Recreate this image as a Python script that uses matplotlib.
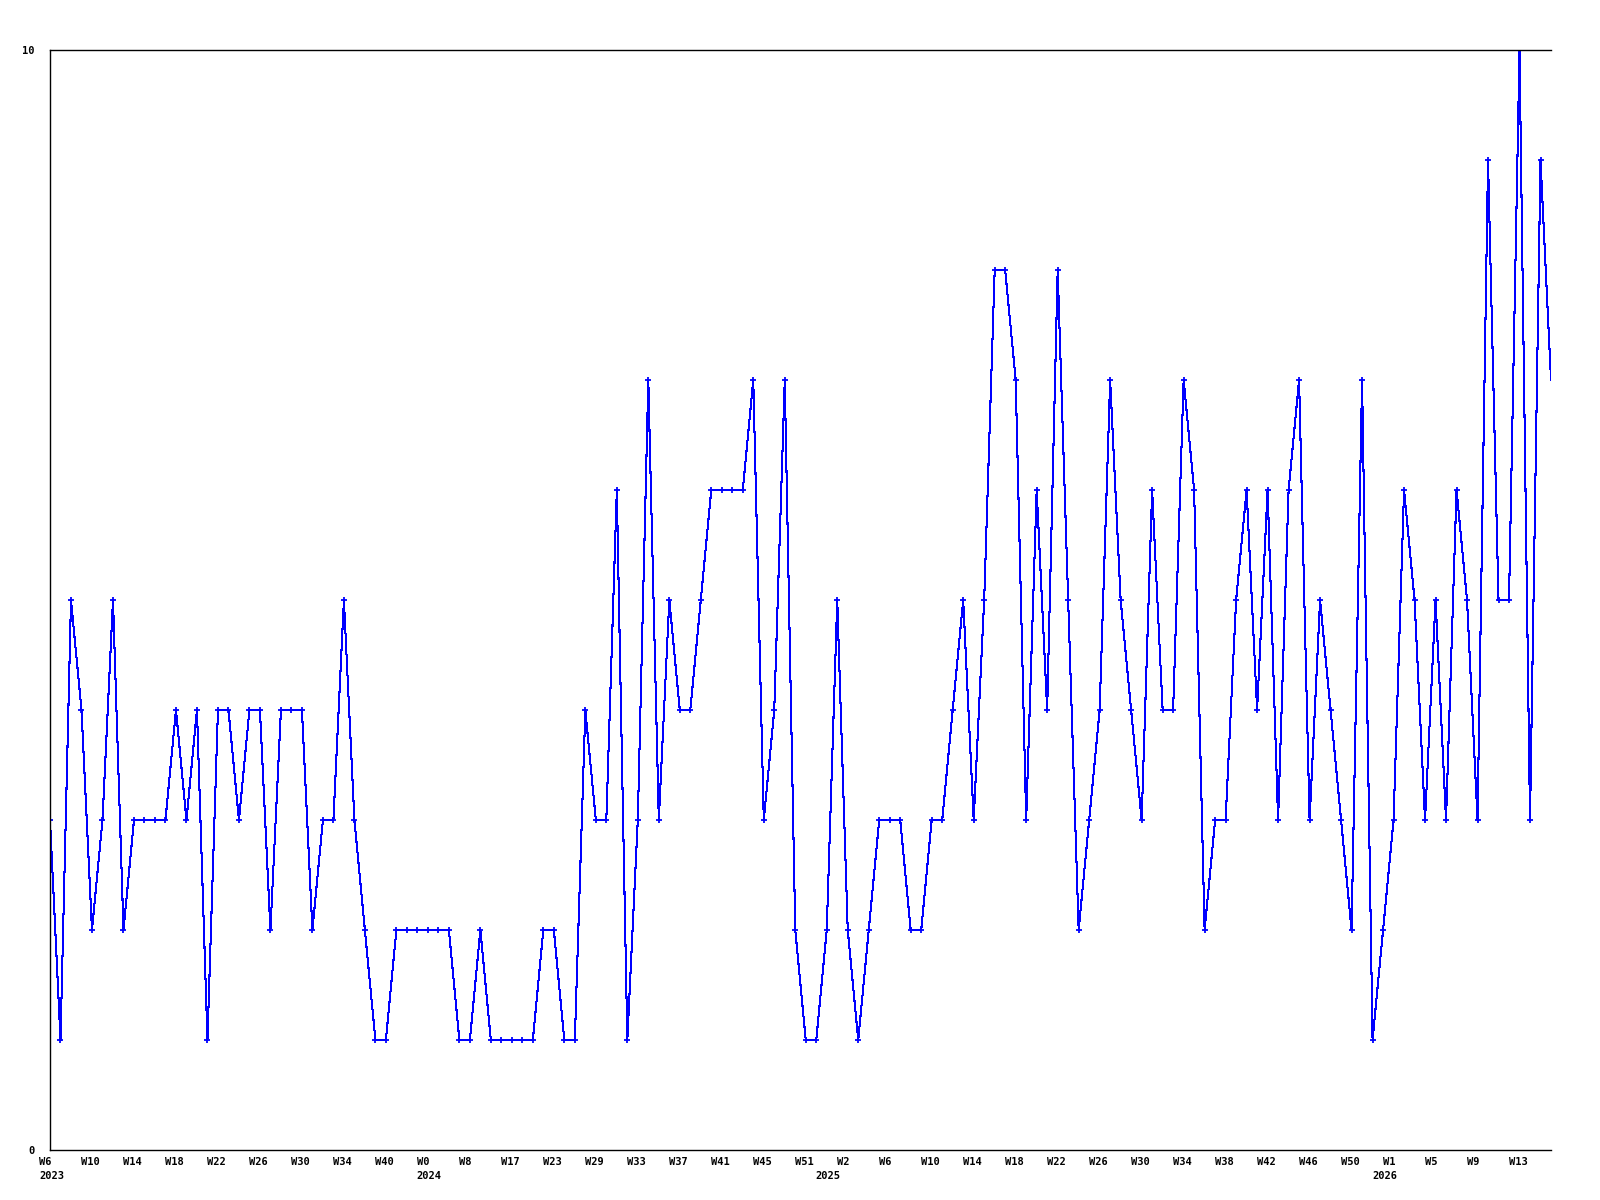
import matplotlib
matplotlib.use("Agg")
import matplotlib.pyplot as plt
import matplotlib.transforms as mtransforms

# Weekly counts, one value per plotted week (gaps in the week numbering are in the source).
values = [
    3, 1, 5, 4, 2, 3, 5, 2, 3, 3, 3, 3, 4, 3, 4, 1, 4, 4, 3, 4,
    4, 2, 4, 4, 4, 2, 3, 3, 5, 3, 2, 1, 1, 2, 2, 2, 2, 2, 2, 1,
    1, 2, 1, 1, 1, 1, 1, 2, 2, 1, 1, 4, 3, 3, 6, 1, 3, 7, 3, 5,
    4, 4, 5, 6, 6, 6, 6, 7, 3, 4, 7, 2, 1, 1, 2, 5, 2, 1, 2, 3,
    3, 3, 2, 2, 3, 3, 4, 5, 3, 5, 8, 8, 7, 3, 6, 4, 8, 5, 2, 3,
    4, 7, 5, 4, 3, 6, 4, 4, 7, 6, 2, 3, 3, 5, 6, 4, 6, 3, 6, 7,
    3, 5, 4, 3, 2, 7, 1, 2, 3, 6, 5, 3, 5, 3, 6, 5, 3, 9, 5, 5,
    10, 3, 9, 7,
]

# Week labels, one every 4 points.
week_labels = [
    "W6", "W10", "W14", "W18", "W22", "W26", "W30", "W34", "W40",
    "W0", "W8", "W17", "W23", "W29", "W33", "W37", "W41", "W45", "W51",
    "W2", "W6", "W10", "W14", "W18", "W22", "W26", "W30", "W34", "W38",
    "W42", "W46", "W50", "W1", "W5", "W9", "W13",
]
label_step = 4

# Year markers (point index where the year label sits).
years = ["2023", "2024", "2025", "2026"]
year_idx = [0, 36, 74, 127]

x = list(range(len(values)))

fig = plt.figure(figsize=(16, 12), dpi=100)
ax = fig.add_axes([50 / 1600, 1 - 1150 / 1200, 1501 / 1600, 1100 / 1200])

# last point sits on the right edge and shows no marker in the original
ax.plot(x, values, color="#0000ff", linewidth=0.75, marker="+",
        markersize=4, markeredgewidth=1.3, antialiased=False,
        markevery=list(range(len(values) - 1)))

ax.set_xlim(0, len(values) - 1)
ax.set_ylim(0, 10)

for side in ["left", "top", "bottom"]:
    ax.spines[side].set_linewidth(1.0)
    ax.spines[side].set_color("black")
ax.spines["right"].set_visible(False)

font = dict(family="DejaVu Sans Mono", weight="bold", size=7.5)

# y labels: only 0 and 10
ax.set_yticks([0, 10])
ax.set_yticklabels(["0", "10"], **font)
ax.tick_params(axis="y", length=0, pad=11)

# x labels: left aligned, starting a little left of the point
ticks = [i * label_step for i in range(len(week_labels))]
ax.set_xticks(ticks)
ax.set_xticklabels(week_labels, ha="left", **font)
ax.tick_params(axis="x", length=0, pad=5)
shift = mtransforms.ScaledTranslation(-11 / 100, 0, fig.dpi_scale_trans)
for lab in ax.get_xticklabels():
    lab.set_transform(lab.get_transform() + shift)

ytrans = mtransforms.blended_transform_factory(ax.transData, ax.transAxes)
for yr, xi in zip(years, year_idx):
    ax.text(xi, 0, yr, transform=ytrans + mtransforms.ScaledTranslation(-11 / 100, -21 / 100, fig.dpi_scale_trans),
            ha="left", va="top", **font)

fig.savefig("out.png", dpi=100, facecolor="white")
